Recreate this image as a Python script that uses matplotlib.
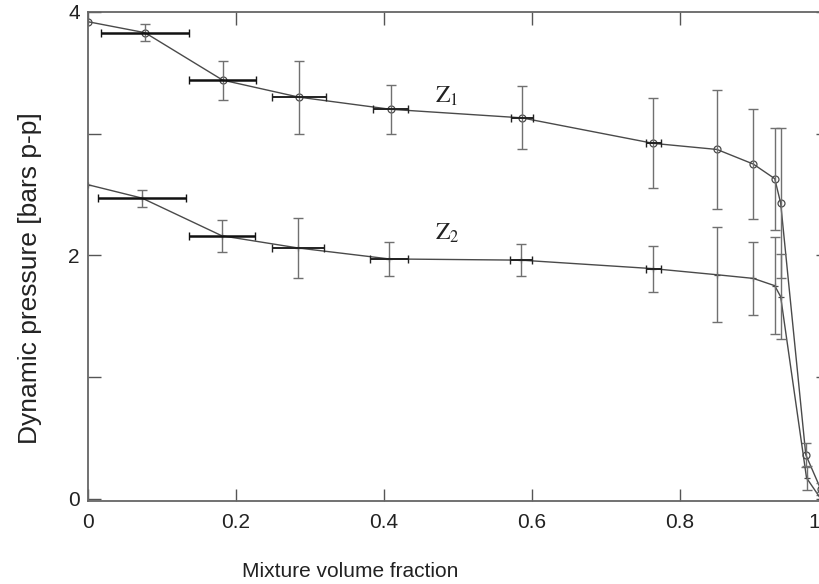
import matplotlib
matplotlib.use("Agg")
import matplotlib.pyplot as plt
from matplotlib.transforms import ScaledTranslation

# values
x1 = [0.0, 0.077, 0.182, 0.285, 0.409, 0.586, 0.764, 0.850, 0.899, 0.928, 0.936, 0.970, 0.990]
y1 = [3.92, 3.83, 3.44, 3.30, 3.20, 3.13, 2.92, 2.87, 2.75, 2.63, 2.43, 0.36, 0.08]
y1err = [0.0, 0.07, 0.16, 0.30, 0.20, 0.26, 0.37, 0.49, 0.45, 0.42, 0.62, 0.10, 0.05]
x1err = [0.0, 0.059, 0.045, 0.036, 0.024, 0.015, 0.010, 0.0, 0.0, 0.0, 0.0, 0.0, 0.0]

x2 = [0.0, 0.073, 0.181, 0.284, 0.407, 0.585, 0.764, 0.850, 0.899, 0.928, 0.936, 0.971, 0.990]
y2 = [2.58, 2.47, 2.16, 2.06, 1.97, 1.96, 1.89, 1.84, 1.81, 1.75, 1.66, 0.17, 0.0]
y2err = [0.0, 0.07, 0.13, 0.25, 0.14, 0.13, 0.19, 0.39, 0.30, 0.40, 0.35, 0.10, 0.05]
x2err = [0.0, 0.060, 0.045, 0.035, 0.026, 0.015, 0.010, 0.0, 0.0, 0.0, 0.0, 0.0, 0.0]

xticks = [0, 0.2, 0.4, 0.6, 0.8, 1.0]
xticklabels = ["0", "0.2", "0.4", "0.6", "0.8", "1"]
yticks = [0, 1, 2, 3, 4]
yticklabels = ["0", "", "2", "", "4"]

plt.rcParams["font.family"] = ["Liberation Sans", "DejaVu Sans"]
plt.rcParams["mathtext.fontset"] = "stix"

fig = plt.figure(figsize=(8.19, 5.84), dpi=100)
# axes run a bit past the right edge, like the cropped scan
ax = fig.add_axes([88 / 819, 83 / 584, 740 / 819, 489 / 584])

line_c = "#4a4a4a"
err_c = "#707070"

for xs, ys, xe, ye, mk in [(x1, y1, x1err, y1err, "o"), (x2, y2, x2err, y2err, "+")]:
    ax.plot(xs, ys, color=line_c, lw=1.0, marker=mk, ms=5, mfc="none", mec=line_c, mew=0.9)
    # vertical error bars (thin, grey)
    ax.errorbar(xs[1:], ys[1:], yerr=ye[1:], fmt="none", ecolor=err_c, elinewidth=1.0, capsize=3.5)
    # horizontal bars: first two are heavy black, the rest lighter
    ax.errorbar(xs[1:3], ys[1:3], xerr=xe[1:3], fmt="none", ecolor="#111111", elinewidth=1.8, capsize=3)
    ax.errorbar(xs[3:7], ys[3:7], xerr=xe[3:7], fmt="none", ecolor="#222222", elinewidth=1.4, capsize=3)

ax.text(0.485, 3.31, r"$\mathrm{Z}_1$", fontsize=17, ha="center", va="center", color="#222222")
ax.text(0.486, 2.18, r"$\mathrm{Z}_2$", fontsize=17, ha="center", va="center", color="#222222")

ax.set_xlim(0, 1.0)
ax.set_ylim(-0.02, 4.0)
ax.set_xticks(xticks)
ax.set_xticklabels(xticklabels)
ax.set_yticks(yticks)
ax.set_yticklabels(yticklabels)
ax.tick_params(direction="in", length=9, width=1.0, color="#555555", labelsize=15,
               top=True, right=True, labelcolor="#222222")
ax.tick_params(axis="x", pad=9)
ax.tick_params(axis="y", pad=6)

# the "1" sits at the cropped edge; pull it in so it stays readable
last = ax.get_xticklabels()[-1]
last.set_transform(last.get_transform() + ScaledTranslation(-14 / 100, 0, fig.dpi_scale_trans))

for s in ax.spines.values():
    s.set_color("#666666")
    s.set_linewidth(1.3)

ax.set_xlabel("Mixture volume fraction", fontsize=15, color="#222222")
ax.xaxis.set_label_coords(0.354, -0.125)
ax.set_ylabel("Dynamic pressure [bars p-p]", fontsize=19, color="#222222")
ax.yaxis.set_label_coords(-0.062, 0.456)

fig.savefig("out.png", dpi=100)
